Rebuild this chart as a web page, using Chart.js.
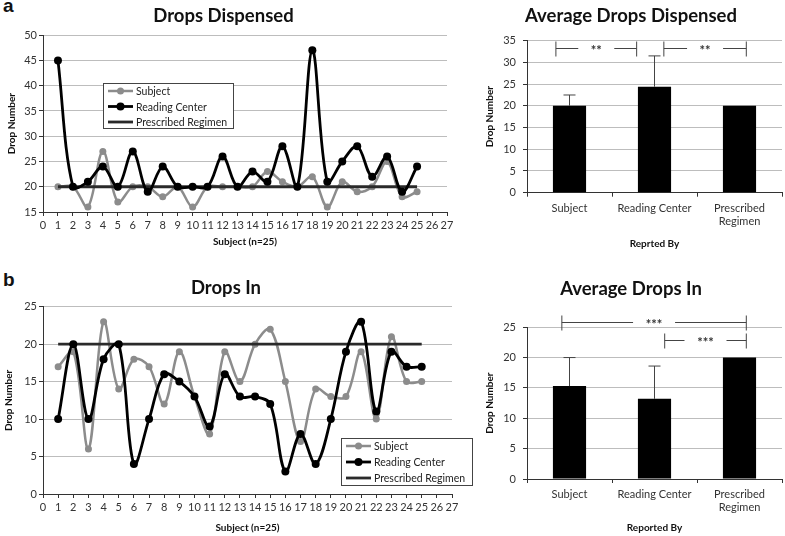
<!DOCTYPE html>
<html>
<head>
<meta charset="utf-8">
<script src="https://cdn.jsdelivr.net/npm/chart.js@4.4.1/dist/chart.umd.min.js"></script>
<style>
  body { margin: 0; background: #fff; width: 785px; height: 536px; position: relative; overflow: hidden; }
  canvas { position: absolute; }
  .panel { position: absolute; font: bold 19px "Liberation Sans", Arial, sans-serif; color: #111; }
</style>
</head>
<body>
<div class="panel" style="left:3px;top:-5px">a</div>
<div class="panel" style="left:3px;top:269px">b</div>
<canvas id="dispLine" width="465" height="250" style="left:0;top:0"></canvas>
<canvas id="dispBar" width="305" height="250" style="left:480px;top:0"></canvas>
<canvas id="inLine" width="480" height="274" style="left:0;top:262px"></canvas>
<canvas id="inBar" width="305" height="274" style="left:480px;top:262px"></canvas>
<script>
const FONT = 'Lato, "Open Sans", sans-serif';

// subjects 1..25
const subjects = [1, 2, 3, 4, 5, 6, 7, 8, 9, 10, 11, 12, 13, 14, 15, 16, 17, 18, 19, 20, 21, 22, 23, 24, 25];

// a) drops dispensed
const dispSubject    = [20, 20, 16, 27, 17, 20, 20, 18, 20, 16, 20, 20, 20, 20, 23, 21, 20, 22, 16, 21, 19, 20, 25, 18, 19];
const dispReading    = [45, 20, 21, 24, 20, 27, 19, 24, 20, 20, 20, 26, 20, 23, 21, 28, 20, 47, 21, 25, 28, 22, 26, 19, 24];
const dispPrescribed = [20, 20, 20, 20, 20, 20, 20, 20, 20, 20, 20, 20, 20, 20, 20, 20, 20, 20, 20, 20, 20, 20, 20, 20, 20];

// b) drops in
const inSubject    = [17, 19, 6, 23, 14, 18, 17, 12, 19, 13, 8, 19, 15, 20, 22, 15, 7, 14, 13, 13, 19, 10, 21, 15, 15];
const inReading    = [10, 20, 10, 18, 20, 4, 10, 16, 15, 13, 9, 16, 13, 13, 12, 3, 8, 4, 10, 19, 23, 11, 19, 17, 17];
const inPrescribed = [20, 20, 20, 20, 20, 20, 20, 20, 20, 20, 20, 20, 20, 20, 20, 20, 20, 20, 20, 20, 20, 20, 20, 20, 20];

// averages
const reporters = ['Subject', 'Reading Center', ['Prescribed', 'Regimen']];
const avgDispensed = [20, 24.4, 20];
const sdDispensed  = [2.5, 7.1, 0];
const avgIn = [15.3, 13.2, 20];
const sdIn  = [4.7, 5.4, 0];

// significance brackets (category index from/to, drop level)
const sigDispensed = [
  { from: -0.16, to: 0.79, level: 33.4, text: '**' },
  { from: 1.11, to: 2.08, level: 33.4, text: '**' }
];
const sigIn = [
  { from: -0.09, to: 2.08, level: 25.8, text: '***' },
  { from: 1.12, to: 2.08, level: 22.9, text: '***' }
];

const points = (vals) => vals.map((v, i) => ({ x: subjects[i], y: v }));

const boxLegend = {
  id: 'boxLegend',
  afterDatasetsDraw(chart, args, opts) {
    const ctx = chart.ctx;
    ctx.save();
    ctx.fillStyle = '#fff';
    ctx.fillRect(opts.left, opts.top, opts.width, opts.height);
    ctx.strokeStyle = '#444';
    ctx.lineWidth = 1;
    ctx.strokeRect(opts.left + 0.5, opts.top + 0.5, opts.width, opts.height);
    ctx.font = '10.5px ' + FONT;
    ctx.textBaseline = 'middle';
    chart.data.datasets.forEach((ds, i) => {
      const cy = opts.top + opts.firstRow + i * opts.rowGap;
      const x0 = opts.left + 5, x1 = x0 + 25;
      ctx.strokeStyle = ds.borderColor;
      ctx.lineWidth = ds.borderWidth;
      ctx.beginPath(); ctx.moveTo(x0, cy); ctx.lineTo(x1, cy); ctx.stroke();
      if (ds.pointRadius > 0) {
        ctx.fillStyle = ds.borderColor;
        ctx.beginPath(); ctx.arc((x0 + x1) / 2, cy, ds.pointRadius, 0, Math.PI * 2); ctx.fill();
      }
      ctx.fillStyle = '#222';
      ctx.fillText(ds.label, x1 + 3, cy + 1);
    });
    ctx.restore();
  }
};

const errorBars = {
  id: 'errorBars',
  afterDatasetsDraw(chart) {
    const ctx = chart.ctx, x = chart.scales.x, y = chart.scales.y;
    const ds = chart.data.datasets[0];
    const meta = chart.getDatasetMeta(0);
    ctx.save();
    ctx.strokeStyle = '#444';
    ctx.lineWidth = 1;
    meta.data.forEach((bar, i) => {
      const sd = ds.errors[i];
      if (!sd) return;
      const top = y.getPixelForValue(ds.data[i] + sd);
      ctx.beginPath();
      ctx.moveTo(bar.x, bar.y); ctx.lineTo(bar.x, top);
      ctx.moveTo(bar.x - 6, top); ctx.lineTo(bar.x + 6, top);
      ctx.stroke();
    });
    // significance brackets
    ctx.fillStyle = '#333';
    ctx.font = 'bold 13px ' + FONT;
    ctx.textAlign = 'center';
    ctx.textBaseline = 'middle';
    ds.brackets.forEach(b => {
      const x1 = x.getPixelForValue(b.from), x2 = x.getPixelForValue(b.to);
      const yy = Math.round(y.getPixelForValue(b.level)) + 0.5;
      const mid = (x1 + x2) / 2, half = b.text.length * 3 + 12;
      ctx.beginPath();
      ctx.moveTo(x1, yy - 7); ctx.lineTo(x1, yy + 8);
      ctx.moveTo(x2, yy - 7); ctx.lineTo(x2, yy + 8);
      ctx.moveTo(x1, yy); ctx.lineTo(mid - half, yy);
      ctx.moveTo(mid + half, yy); ctx.lineTo(x2, yy);
      ctx.stroke();
      ctx.fillText(b.text, mid, yy + 2);
    });
    ctx.restore();
  }
};

function lineChart(id, opts) {
  return new Chart(document.getElementById(id), {
    type: 'line',
    data: {
      datasets: [{
        label: 'Subject',
        data: points(opts.subject),
        borderColor: '#8c8c8c', backgroundColor: '#8c8c8c',
        borderWidth: 2.5, pointRadius: 3.5, pointBorderWidth: 0,
        tension: 0.35, order: 3
      }, {
        label: 'Reading Center',
        data: points(opts.reading),
        borderColor: '#000', backgroundColor: '#000',
        borderWidth: 2.8, pointRadius: 4, pointBorderWidth: 0,
        tension: 0.35, order: 1
      }, {
        label: 'Prescribed Regimen',
        data: points(opts.prescribed),
        borderColor: '#2a2a2a', backgroundColor: '#2a2a2a',
        borderWidth: 2.8, pointRadius: 0, tension: 0, order: 2
      }]
    },
    options: {
      responsive: false,
      animation: false,
      layout: { padding: { left: 0, right: opts.padRight, top: 0, bottom: 0 } },
      plugins: {
        legend: { display: false },
        tooltip: { enabled: false },
        title: {
          display: true, text: opts.title, color: '#111',
          font: { family: FONT, size: 18.5, weight: 'bold' },
          padding: opts.titlePad
        },
        boxLegend: opts.legend
      },
      scales: {
        x: {
          type: 'linear', min: 0, max: 27,
          afterFit: (s) => { s.height = opts.xHeight; },
          ticks: { stepSize: 1, autoSkip: false, maxRotation: 0, padding: 3, color: '#333', font: { family: FONT, size: 11 } },
          grid: { drawOnChartArea: false, tickLength: 4, tickColor: '#333' },
          border: { color: '#333' },
          title: { display: true, text: 'Subject (n=25)', color: '#111', font: { family: FONT, size: 10, weight: 'bold' }, padding: { top: 0, bottom: 2 } }
        },
        y: {
          min: opts.yMin, max: opts.yMax,
          afterFit: (s) => { s.width = 43; },
          ticks: { stepSize: 5, padding: 2, color: '#333', font: { family: FONT, size: 11 } },
          grid: { color: '#bdbdbd', tickLength: 4, tickColor: '#333' },
          border: { color: '#333' },
          title: { display: true, text: 'Drop Number', color: '#111', font: { family: FONT, size: 10, weight: 'bold' }, padding: { top: opts.yTitlePad, bottom: 0 } }
        }
      }
    },
    plugins: [boxLegend]
  });
}

function barChart(id, opts) {
  return new Chart(document.getElementById(id), {
    type: 'bar',
    data: {
      labels: reporters,
      datasets: [{
        data: opts.values,
        errors: opts.errors,
        brackets: opts.brackets,
        backgroundColor: '#000',
        barPercentage: 0.39,
        categoryPercentage: 1
      }]
    },
    options: {
      responsive: false,
      animation: false,
      layout: { padding: { left: 0, right: 3, top: 0, bottom: 0 } },
      plugins: {
        legend: { display: false },
        tooltip: { enabled: false },
        title: {
          display: true, text: opts.title, color: '#111',
          font: { family: FONT, size: 18.5, weight: 'bold' },
          padding: opts.titlePad
        }
      },
      scales: {
        x: {
          afterFit: (s) => { s.height = opts.xHeight; },
          ticks: { padding: 5, color: '#333', font: { family: FONT, size: 11 } },
          grid: { drawOnChartArea: false, offset: true, tickLength: 4, tickColor: '#333' },
          border: { color: '#333' },
          title: { display: true, text: opts.xTitle, color: '#111', font: { family: FONT, size: 10, weight: 'bold' }, padding: { top: 0, bottom: opts.xTitlePad } }
        },
        y: {
          min: 0, max: opts.yMax,
          afterFit: (s) => { s.width = 47; },
          ticks: { stepSize: 5, padding: 7, color: '#333', font: { family: FONT, size: 11 } },
          grid: { color: '#bdbdbd', tickLength: 4, tickColor: '#333' },
          border: { color: '#333' },
          title: { display: true, text: 'Drop Number', color: '#111', font: { family: FONT, size: 10, weight: 'bold' }, padding: { top: 4, bottom: 0 } }
        }
      }
    },
    plugins: [errorBars]
  });
}

lineChart('dispLine', {
  title: 'Drops Dispensed',
  subject: dispSubject, reading: dispReading, prescribed: dispPrescribed,
  yMin: 15, yMax: 50, padRight: 18, xHeight: 38, yTitlePad: 6,
  titlePad: { top: 5, bottom: 8 },
  legend: { left: 103, top: 83, width: 130, height: 45, firstRow: 8, rowGap: 15.5 }
});

barChart('dispBar', {
  title: 'Average Drops Dispensed',
  values: avgDispensed, errors: sdDispensed, brackets: sigDispensed,
  yMax: 35, xHeight: 57.3, xTitle: 'Reprted By', xTitlePad: 0,
  titlePad: { top: 4.5, bottom: 14 }
});

lineChart('inLine', {
  title: 'Drops In',
  subject: inSubject, reading: inReading, prescribed: inPrescribed,
  yMin: 0, yMax: 25, padRight: 28, xHeight: 42, yTitlePad: 3,
  titlePad: { top: 15, bottom: 7.5 },
  legend: { left: 341, top: 176, width: 131, height: 47, firstRow: 8, rowGap: 16 }
});

barChart('inBar', {
  title: 'Average Drops In',
  values: avgIn, errors: sdIn, brackets: sigIn,
  yMax: 25, xHeight: 57, xTitle: 'Reported By', xTitlePad: 2,
  titlePad: { top: 16, bottom: 27 }
});
</script>
</body>
</html>
